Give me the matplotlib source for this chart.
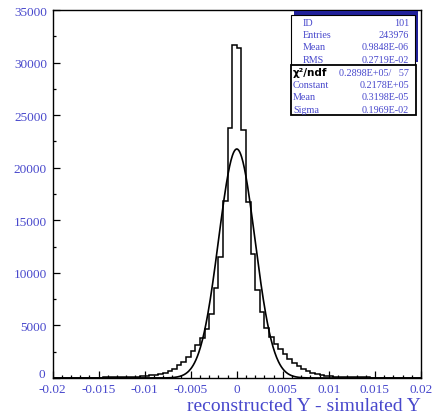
import numpy as np
import matplotlib
matplotlib.use('Agg')
from matplotlib import pyplot as plt
from matplotlib.patches import Rectangle
from matplotlib.ticker import MultipleLocator

# histogram: 80 bins of 0.0005 from -0.02 to 0.02
edges = np.linspace(-0.02, 0.02, 81)
left_counts = [10, 11, 13, 15, 17, 19, 22, 26, 30, 35, 42, 50, 58, 66, 75, 85, 95,
               100, 120, 150, 190, 240, 310, 400, 520, 680, 900, 1200, 1550, 2000,
               2550, 3150, 3850, 4700, 6100, 8550, 11550, 16800, 23800, 31700]
right_counts = [31400, 23600, 16700, 11800, 8350, 6300, 4800, 3870, 3200, 2750,
                2250, 1850, 1450, 1150, 860, 660, 480, 370, 290, 220, 170, 135,
                110, 95, 85, 75, 66, 58, 50, 42, 35, 30, 26, 22, 19, 17, 15, 13, 11, 10]
counts = np.array(left_counts + right_counts)

# fit parameters from the stat box
fit_const = 0.2178e5
fit_mean = 0.3198e-5
fit_sigma = 0.1969e-2

xt = [-0.02, -0.015, -0.01, -0.005, 0, 0.005, 0.01, 0.015, 0.02]
xt_labels = ['-0.02', '-0.015', '-0.01', '-0.005', '0', '0.005', '0.01', '0.015', '0.02']
yt = [0, 5000, 10000, 15000, 20000, 25000, 30000, 35000]
yt_labels = ['0', '5000', '10000', '15000', '20000', '25000', '30000', '35000']

stat_top = [('ID', '101'), ('Entries', '243976'), ('Mean', '0.9848E-06'), ('RMS', '0.2719E-02')]
stat_bot = [('Constant', '0.2178E+05'), ('Mean', '0.3198E-05'), ('Sigma', '0.1969E-02')]
chi2_text = '0.2898E+05/   57'

W, H = 434, 414
blue = '#4848cc'
serif = 'Liberation Serif'

fig = plt.figure(figsize=(W/100, H/100), dpi=100)
ax = fig.add_axes([52.5/W, 1-379/H, (421-52.5)/W, (379-11)/H])

ax.stairs(counts, edges, color='black', lw=1.1)
xf = np.linspace(-0.02, 0.02, 800)
ax.plot(xf, fit_const*np.exp(-0.5*((xf-fit_mean)/fit_sigma)**2), color='black', lw=1.2)

ax.set_xlim(-0.02, 0.02)
ax.set_ylim(0, 35000)
ax.xaxis.set_minor_locator(MultipleLocator(0.001))
ax.yaxis.set_minor_locator(MultipleLocator(2500))
ax.tick_params(which='both', direction='in', top=False, right=False, width=0.9)
ax.tick_params(which='major', length=5)
ax.tick_params(which='minor', length=2.5)
ax.tick_params(axis='x', pad=3.5)
ax.tick_params(axis='y', pad=4)
ax.set_xticks(xt)
ax.set_xticklabels(xt_labels)
ax.set_yticks(yt)
# the bottom "0" is drawn by hand a bit higher so it clears "-0.02"
ax.set_yticklabels([''] + yt_labels[1:])
for lab in ax.get_xticklabels() + ax.get_yticklabels():
    lab.set_fontfamily(serif)
    lab.set_fontsize(9.5)
    lab.set_color(blue)
fig.text(45.5/W, 1-375/H, yt_labels[0], ha='right', va='center',
         family=serif, fontsize=9.5, color=blue)
for s in ax.spines.values():
    s.set_linewidth(1.0)

fig.text(421/W, 1-411.5/H, 'reconstructed Y - simulated Y', ha='right', va='baseline',
         family=serif, fontsize=14, color=blue)

# stat box
def px(x, y):
    return x/W, 1-y/H

def rect(x0, y0, x1, y1, **kw):
    fig.add_artist(Rectangle(px(x0, y1), (x1-x0)/W, (y1-y0)/H, transform=fig.transFigure, **kw))

rect(294, 12, 418, 63, facecolor='#20209a', edgecolor='none')
rect(291, 15.5, 415, 66, facecolor='white', edgecolor='black', lw=0.8)
rect(291, 66, 416, 116, facecolor='white', edgecolor='black', lw=1.3)

for i, (k, v) in enumerate(stat_top):
    y = 23 + i*12.5
    fig.text(*px(303, y), k, ha='left', va='center', family=serif, fontsize=7.3, color=blue)
    fig.text(*px(409, y), v, ha='right', va='center', family=serif, fontsize=7.3, color=blue)

fig.text(*px(293, 73), 'χ²/ndf', ha='left', va='center', family='DejaVu Sans',
         fontsize=7.5, fontweight='bold', color='black')
fig.text(*px(409, 73), chi2_text, ha='right', va='center', family=serif, fontsize=7.3, color=blue)
for i, (k, v) in enumerate(stat_bot):
    y = 85.5 + i*12.3
    fig.text(*px(293, y), k, ha='left', va='center', family=serif, fontsize=7.3, color=blue)
    fig.text(*px(409, y), v, ha='right', va='center', family=serif, fontsize=7.3, color=blue)

fig.savefig('out.png', dpi=100)
